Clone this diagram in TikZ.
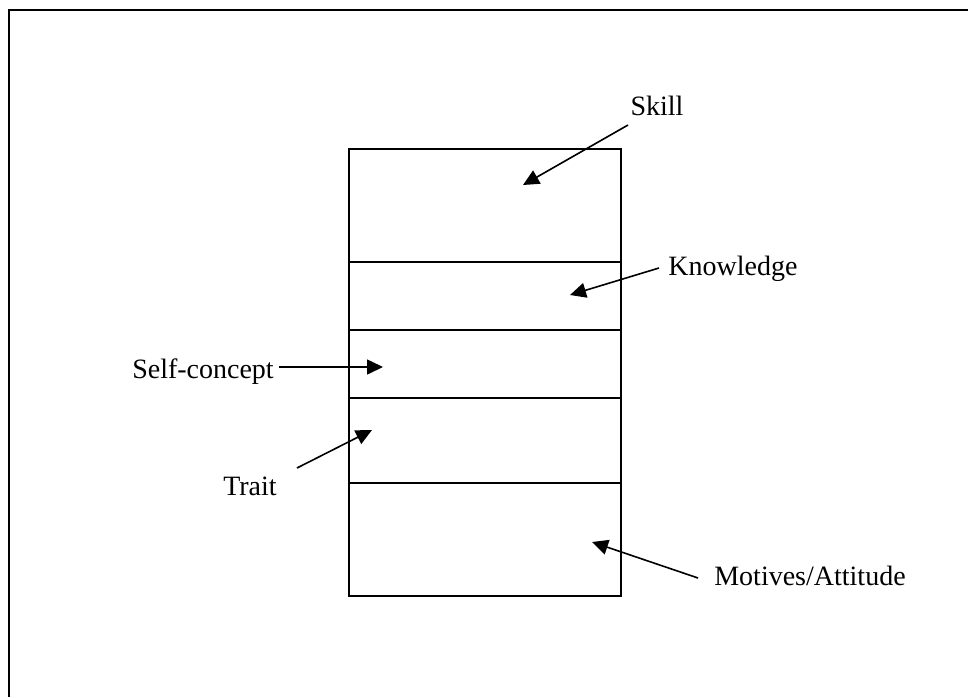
\documentclass[tikz,border=0pt]{standalone}
\usepackage{fontspec}
\setmainfont{Liberation Serif}
\usetikzlibrary{arrows.meta}
\begin{document}
\begin{tikzpicture}[x=1pt,y=-1pt,
  layer/.style={draw,line width=1.5pt,minimum width=272pt,inner sep=0pt,anchor=north west},
  lbl/.style={font=\fontsize{28}{32}\selectfont,inner sep=0pt,anchor=base},
  pointer/.style={line width=1.6pt,-{Triangle[length=16pt,width=15pt]}}]
\useasboundingbox (0,0) rectangle (968,697);
% open frame running off the page
\draw[line width=2.2pt] (9,697) -- (9,10) -- (968,10);
% stacked layers
\node[layer,minimum height=113pt] (skill) at (348,148) {};
\node[layer,minimum height=68pt]  (know)  at (348,261) {};
\node[layer,minimum height=68pt]  (self)  at (348,329) {};
\node[layer,minimum height=85pt]  (trait) at (348,397) {};
\node[layer,minimum height=113pt] (mot)   at (348,482) {};
% labels (placed by baseline)
\node[lbl] (tskill) at (657,115) {Skill};
\node[lbl] (tknow)  at (733,275) {Knowledge};
\node[lbl] (tself)  at (203,378) {Self-concept};
\node[lbl] (ttrait) at (250,495) {Trait};
\node[lbl] (tmot)   at (810,585) {Motives/Attitude};
% arrow tails and tips
\coordinate (a1) at (628,125); \coordinate (b1) at (523,185);
\coordinate (a2) at (659,268); \coordinate (b2) at (570,295);
\coordinate (a3) at (279,367); \coordinate (b3) at (383,367);
\coordinate (a4) at (297,468); \coordinate (b4) at (372,430);
\coordinate (a5) at (698,578); \coordinate (b5) at (592,542);
\draw[pointer] (a1) -- (b1);
\draw[pointer] (a2) -- (b2);
\draw[pointer] (a3) -- (b3);
\draw[pointer] (a4) -- (b4);
\draw[pointer] (a5) -- (b5);
\end{tikzpicture}
\end{document}
